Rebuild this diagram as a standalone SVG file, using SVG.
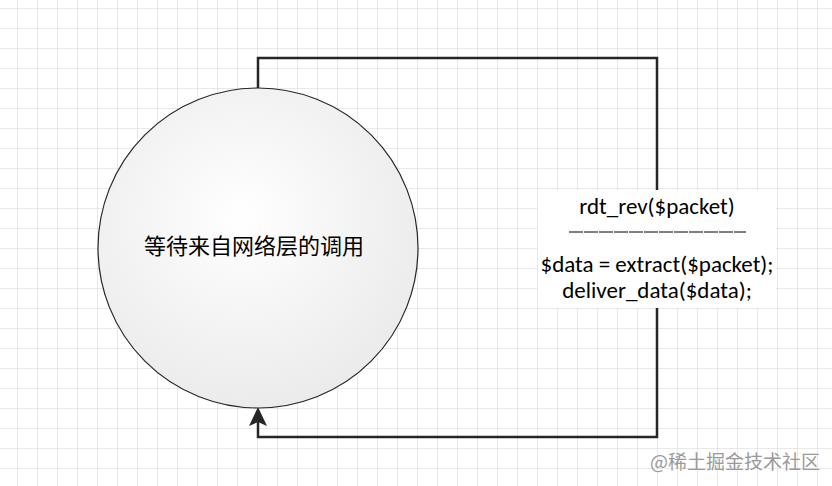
<svg xmlns="http://www.w3.org/2000/svg" width="832" height="486" viewBox="0 0 832 486">
<defs>
<pattern id="grid" x="17" y="8" width="20" height="20" patternUnits="userSpaceOnUse">
<path d="M0 0V20M0 0H20" fill="none" stroke="#d4d4d4" stroke-width="1"/>
</pattern>
<radialGradient id="cg" cx="0.45" cy="0.4" r="0.7">
<stop offset="0" stop-color="#ffffff"/>
<stop offset="1" stop-color="#e8e8e8"/>
</radialGradient>
<style>
.t{font-family:Carlito,Calibri,"Liberation Sans",sans-serif;font-size:23px;fill:#000;text-anchor:middle}
.c{font-family:"Noto Sans CJK SC",sans-serif;font-size:22px;fill:#000;text-anchor:middle}
</style>
</defs>
<rect width="832" height="486" fill="#fff"/>
<rect width="832" height="486" fill="url(#grid)"/>
<g id="connectors">
<path d="M258 88V58H657V190M657 308V437H258V420" fill="none" stroke="#262626" stroke-width="2.5"/>
<path d="M258 407L267 426L258 422L249 426Z" fill="#262626"/>
</g>
<g id="state">
<circle cx="258" cy="248" r="160" fill="url(#cg)" stroke="#262626" stroke-width="1.2"/>
<text class="c" x="254" y="254">等待来自网络层的调用</text>
</g>
<g id="label">
<rect x="538" y="190" width="238" height="118" fill="#fff"/>
<text class="t" x="657" y="214">rdt_rev($packet)</text>
<line x1="569" y1="232" x2="746" y2="232" stroke="#000" stroke-width="1" stroke-dasharray="14,1"/>
<text class="t" x="657" y="272">$data = extract($packet);</text>
<text class="t" x="657" y="298">deliver_data($data);</text>
</g>
<text x="820" y="469" font-family="'Noto Sans CJK SC',sans-serif" font-size="19" fill="#9a9a9a" text-anchor="end">@稀土掘金技术社区</text>
</svg>
